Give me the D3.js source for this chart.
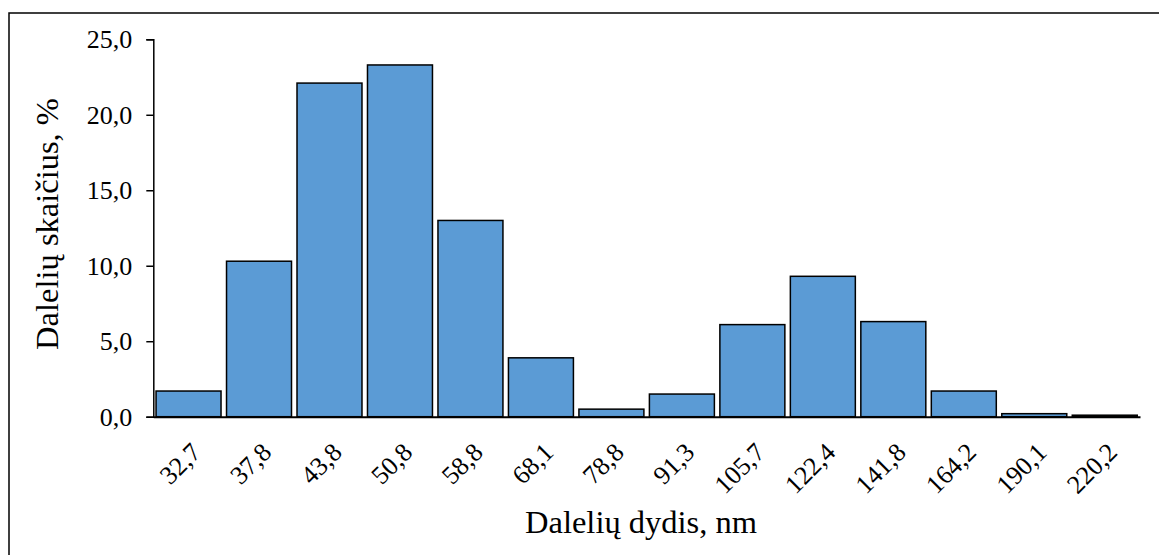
<!DOCTYPE html>
<html>
<head>
<meta charset="utf-8">
<script src="https://cdn.jsdelivr.net/npm/d3@7/dist/d3.min.js"></script>
<style>
  html, body { margin: 0; padding: 0; background: #fff; }
  svg { display: block; }
</style>
</head>
<body>
<svg id="chart" width="1159" height="555"></svg>
<script>
// Particle size distribution
const sizes = ["32,7", "37,8", "43,8", "50,8", "58,8", "68,1", "78,8", "91,3", "105,7", "122,4", "141,8", "164,2", "190,1", "220,2"];
const shares = [1.7, 10.3, 22.1, 23.3, 13.0, 3.9, 0.5, 1.5, 6.1, 9.3, 6.3, 1.7, 0.2, 0.1];
const yTicks = [0, 5, 10, 15, 20, 25];

const FONT = "'Liberation Serif', 'Times New Roman', serif";
const svg = d3.select("#chart");
const fmt = v => d3.format(".1f")(v).replace(".", ",");

// outer frame
svg.append("rect")
  .attr("x", 9).attr("y", 13)
  .attr("width", 1170).attr("height", 560)
  .attr("fill", "none").attr("stroke", "#000").attr("stroke-width", 1.5);

const x = d3.scaleBand().domain(sizes).range([153.3, 1140])
  .paddingInner(0.078).paddingOuter(0.039);
const y = d3.scaleLinear().domain([0, 25]).range([416.7, 39.3]);

// bars
svg.append("g").selectAll("rect").data(shares).join("rect")
  .attr("x", (d, i) => x(sizes[i]))
  .attr("y", d => y(d))
  .attr("width", x.bandwidth())
  .attr("height", d => y(0) - y(d))
  .attr("fill", "#5B9BD5")
  .attr("stroke", "#000")
  .attr("stroke-width", 1.5);

// y axis
const yAxis = svg.append("g").attr("transform", "translate(153.3,0)")
  .call(d3.axisLeft(y).tickValues(yTicks).tickFormat(fmt).tickSize(7).tickPadding(14));
yAxis.select(".domain").attr("stroke", "#000").attr("stroke-width", 1.5);
yAxis.selectAll(".tick line").attr("stroke", "#000").attr("stroke-width", 1.5);
yAxis.selectAll(".tick text")
  .style("font-family", FONT).style("font-size", "26px").attr("fill", "#000");

// x axis
const xAxis = svg.append("g").attr("transform", `translate(0,${y(0)})`)
  .call(d3.axisBottom(x).tickSize(0).tickSizeOuter(0).tickPadding(0));
xAxis.select(".domain").attr("stroke", "#000").attr("stroke-width", 2);
xAxis.selectAll(".tick text")
  .style("font-family", FONT).style("font-size", "26px").attr("fill", "#000")
  .attr("text-anchor", "end")
  .attr("dy", 0)
  .attr("transform", "translate(14,37) rotate(-45)");

// axis titles
svg.append("text")
  .attr("x", 641).attr("y", 533)
  .attr("text-anchor", "middle")
  .style("font-family", FONT).style("font-size", "32.5px")
  .text("Dalelių dydis, nm");

svg.append("text")
  .attr("transform", "translate(58,224) rotate(-90)")
  .attr("text-anchor", "middle")
  .style("font-family", FONT).style("font-size", "32.5px")
  .text("Dalelių skaičius, %");
</script>
</body>
</html>
